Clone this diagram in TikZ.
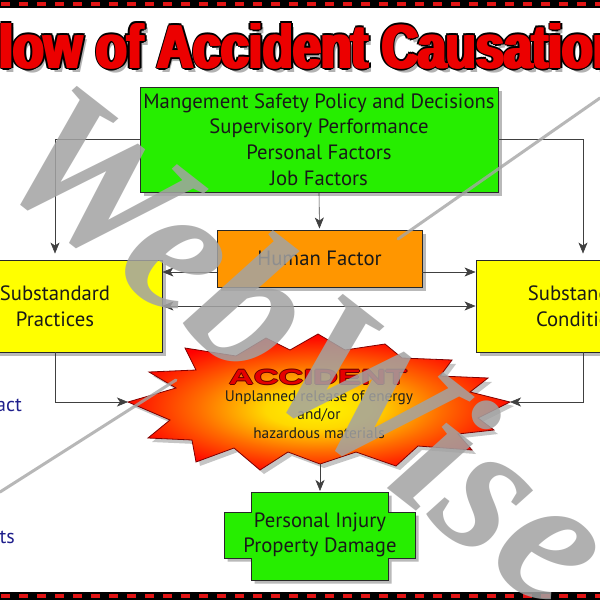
\documentclass[tikz,border=0pt]{standalone}
\usepackage{fontspec}
\usepackage{graphicx}
\setmainfont{PT Sans}
\newfontfamily\titlefont{Liberation Sans}
\newfontfamily\wmfont{Liberation Serif}
\usetikzlibrary{arrows.meta,calc,shadows}
\definecolor{boxgreen}{RGB}{38,238,0}
\definecolor{hforange}{RGB}{255,150,0}
\definecolor{subyellow}{RGB}{255,255,0}
\definecolor{ttlred}{RGB}{236,0,0}
\definecolor{dashred}{RGB}{225,20,20}
\definecolor{sidetext}{RGB}{30,30,140}
\definecolor{darkline}{RGB}{40,40,40}
\pgfdeclareradialshading{burst}{\pgfpoint{0bp}{-3bp}}{color(0bp)=(yellow!90!orange); color(7bp)=(yellow!70!orange); color(16bp)=(orange!85!red); color(26bp)=(red); color(50bp)=(red)}
\newcommand{\flowtitle}{\resizebox{654pt}{45pt}{\titlefont\bfseries Flow of Accident Causation}}
\newcommand{\acctitle}{\resizebox{178pt}{14.5pt}{\titlefont\bfseries ACCIDENT}}
\tikzset{
  box/.style={draw=darkline, line width=0.9pt, inner sep=0pt, align=center,
    text=black!90, font=\fontsize{20.7}{25.7}\selectfont,
    drop shadow={shadow xshift=3.5pt, shadow yshift=-3.5pt, opacity=0.55}},
  conn/.style={draw=black!75, line width=0.6pt, -{Stealth[length=11pt,width=9pt,inset=3pt]}},
  dconn/.style={draw=black!75, line width=0.6pt, {Stealth[length=11pt,width=9pt,inset=3pt]}-{Stealth[length=11pt,width=9pt,inset=3pt]}},
  wmark/.style={text=gray!72, opacity=0.85, inner sep=0pt},
  ttlpart/.style={anchor=base west, inner sep=0pt},
}
\begin{document}
\begin{tikzpicture}[x=1pt,y=-1pt]
\useasboundingbox (0,0) rectangle (600,600);
\fill[white] (0,0) rectangle (600,600);
\begin{scope}
\clip (0,0) rectangle (600,600);
% dashed border bands
\fill[black] (0,0) rectangle (600,7.5);
\fill[black] (0,592) rectangle (600,600);
\foreach \i in {0,...,33} {
  \fill[dashred] (1+18*\i,2) rectangle ++(9,3.6);
  \fill[dashred] (1+18*\i,594.2) rectangle ++(9,3.6);
}
% title: shadow, black outline, red faux-bold fill
\node[ttlpart, text=black, opacity=0.3] (ttlshadow) at (-27,72) {\flowtitle};
\foreach \dx/\dy [count=\k] in {-3.6/0,3.6/0,-2.2/-1.8,2.2/-1.8,-2.2/1.8,2.2/1.8,0/-2,0/2} {
  \node[ttlpart, text=black] (ttlo\k) at ($(-31,68)+(\dx,\dy)$) {\flowtitle};
}
\foreach \dx/\dy [count=\k] in {-1.8/0,1.8/0} {
  \node[ttlpart, text=ttlred] (ttlr\k) at ($(-31,68)+(\dx,\dy)$) {\flowtitle};
}
\node[ttlpart, text=ttlred] (ttl) at (-31,68) {\flowtitle};

% boxes
\node[box, fill=boxgreen, minimum width=358pt, minimum height=105pt] (mgmt) at (319,139.5)
  {Mangement Safety Policy and Decisions\\Supervisory Performance\\Personal Factors\\Job Factors};
\node[box, fill=hforange, minimum width=205pt, minimum height=57pt] (human) at (319.5,258.5) {Human Factor};
\node[box, fill=subyellow, minimum width=214pt, minimum height=92pt] (practices) at (55,306) {Substandard\\Practices};
\node[box, fill=subyellow, minimum width=214pt, minimum height=92pt] (conditions) at (583,306) {Substandard\\Conditions};

% accident burst
\coordinate (accL) at (128,402);
\coordinate (accR) at (510,402);
\coordinate (accB) at (320,464);
\shade[shading=burst, draw=red!50!black, line width=0.8pt,
  drop shadow={shadow xshift=4pt, shadow yshift=-4pt, opacity=0.45}]
  (accL) -- (176,388) -- (149,372) -- (196,370) -- (185,348) -- (236,356) -- (266,338)
  -- (290,350) -- (318,334) -- (345,350) -- (385,344) -- (402,358) -- (452,360)
  -- (440,376) -- (488,378) -- (470,392) -- (accR) -- (478,418) -- (494,430)
  -- (458,434) -- (472,450) -- (418,446) -- (396,466) -- (356,452) -- (accB)
  -- (288,452) -- (260,470) -- (234,448) -- (196,462) -- (192,440) -- (148,438)
  -- (170,420) -- cycle;
\foreach \dx/\dy [count=\k] in {-1/0,1/0,0/-1,0/1} {
  \node[inner sep=0pt, text=red!40!black] (acco\k) at ($(318,377)+(\dx,\dy)$) {\acctitle};
}
\node[inner sep=0pt, text=red!90!black] (acc) at (318,377) {\acctitle};
\node[align=center, inner sep=0pt, text=black!88, font=\fontsize{15.3}{18.5}\selectfont, anchor=north] (accdesc) at (319,390)
  {Unplanned release of energy\\and/or\\hazardous materials};

% injury box
\coordinate (dmgT) at (320,492);
\path[draw=darkline, line width=0.9pt, fill=boxgreen,
  drop shadow={shadow xshift=3.5pt, shadow yshift=-3.5pt, opacity=0.55}]
  (251,492) -- (388,492) -- (388,512) -- (415,512) -- (415,558) -- (388,558)
  -- (388,580) -- (251,580) -- (251,558) -- (224,558) -- (224,512) -- (251,512) -- cycle;
\node[align=center, inner sep=0pt, text=black!90, font=\fontsize{20.7}{25.7}\selectfont] (dmg) at (320,535)
  {Personal Injury\\Property Damage};

% connectors
\draw[conn, shorten >=6pt] (mgmt.west) -| (practices.north);
\draw[conn, shorten >=6pt] (mgmt.east) -| (conditions.north);
\draw[conn, shorten >=1pt] (mgmt.south) -- (human.north);
\coordinate (hfL) at ($(human.west)+(0,13.5)$);
\coordinate (hfR) at ($(human.east)+(0,13.5)$);
\draw[conn] (hfL) -- (practices.east |- hfL);
\draw[conn] (hfR) -- (conditions.west |- hfR);
\draw[dconn] (practices.east) -- (conditions.west);
\draw[conn] (practices.south) |- (accL);
\draw[conn] (conditions.south) |- (accR);
\draw[conn, shorten >=1pt] (accB) -- (dmgT);

% side texts
\node[anchor=base east, inner sep=0pt, text=sidetext, font=\fontsize{20}{22}\selectfont] (sideA) at (22,411) {act};
\node[anchor=base east, inner sep=0pt, text=sidetext, font=\fontsize{20}{22}\selectfont] (sideB) at (15,543) {ts};

% watermark
\coordinate (wl1) at (0,492);
\coordinate (wl2) at (176,380);
\coordinate (wl3) at (398,239);
\coordinate (wl4) at (600,98);
\draw[gray!70, line width=3pt, opacity=0.8, line cap=round] (wl1) -- (wl2);
\draw[gray!70, line width=3pt, opacity=0.8, line cap=round] (wl3) -- (wl4);
\node[wmark, rotate=-38, font=\wmfont\bfseries\itshape\fontsize{192}{192}\selectfont] (wm) at (310,345) {WebWise};
\end{scope}
\end{tikzpicture}
\end{document}
